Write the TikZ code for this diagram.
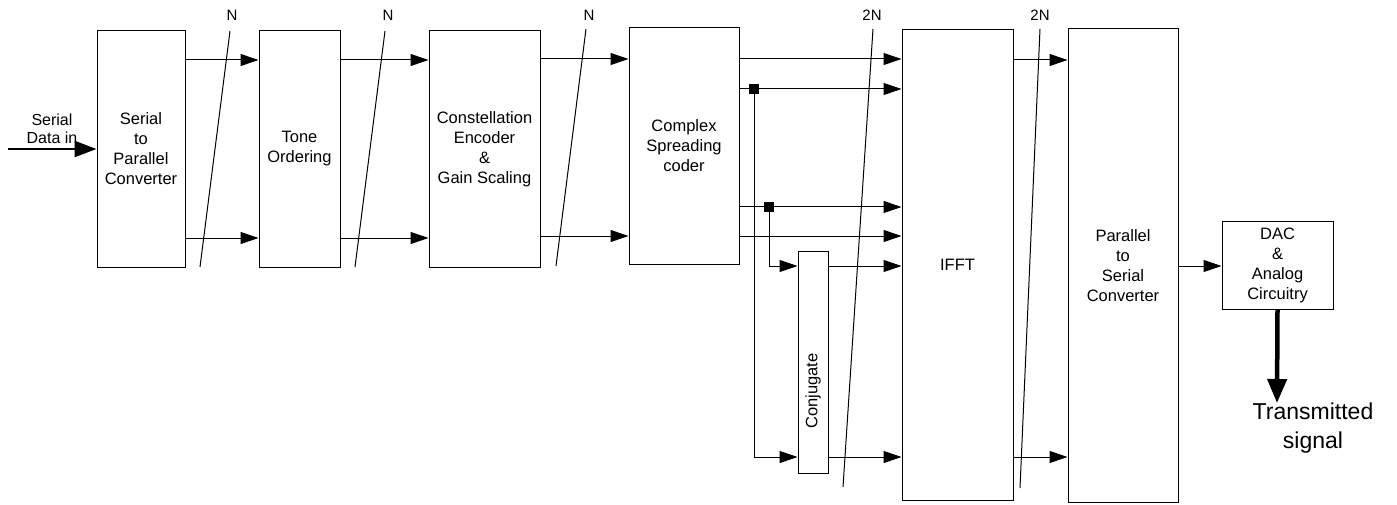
\documentclass[tikz,border=0pt]{standalone}
\usepackage{fontspec}
\setmainfont{Liberation Sans}
\usetikzlibrary{arrows.meta}
\begin{document}
\begin{tikzpicture}[x=1pt,y=-1pt,
  blk/.style={draw, line width=1pt, rectangle, align=center, inner sep=0pt,
    font=\fontsize{16.5}{20}\selectfont},
  arr/.style={line width=1pt, -{Triangle[length=18pt,width=12pt]}},
  thickarr/.style={line width=2.5pt, -{Triangle[length=22pt,width=16pt]}},
  bigarr/.style={line width=4.5pt, -{Triangle[length=24pt,width=19pt]}},
  slash/.style={line width=1pt},
  lbl/.style={font=\fontsize{15}{18}\selectfont, inner sep=0pt},
  junc/.style={fill=black, draw=none, minimum size=9.5pt, inner sep=0pt, rectangle}
]
\useasboundingbox (0,0) rectangle (1397,505);

% boxes
\node[blk, minimum width=88pt, minimum height=236pt] (sp) at (141,149) {Serial\\to\\Parallel\\Converter};
\node[blk, minimum width=81pt, minimum height=236pt] (to) at (299.5,149) {Tone\\Ordering};
\node[blk, minimum width=111pt, minimum height=236pt] (ce) at (484.5,149) {Constellation\\Encoder\\\&\\Gain Scaling};
\node[blk, minimum width=110pt, minimum height=236pt] (cs) at (684,146) {Complex\\Spreading\\coder};
\node[blk, minimum width=111pt, minimum height=470pt] (ifft) at (957.5,265) {IFFT};
\node[blk, minimum width=110pt, minimum height=473pt] (ps) at (1123,265.5) {Parallel\\to\\Serial\\Converter};
\node[blk, minimum width=111pt, minimum height=87pt] (dac) at (1277.5,265.5) {DAC\\\&\\Analog\\Circuitry};
\node[draw, line width=1pt, minimum width=30pt, minimum height=222pt, inner sep=0pt] (conj) at (813,362) {};
\node[rotate=90, font=\fontsize{16.5}{20}\selectfont, inner sep=0pt] (conjt) at (813,391) {Conjugate};

% input
\node[align=center, font=\fontsize{16}{18}\selectfont, inner sep=0pt] (sdin) at (52,129) {Serial\\Data in};
\coordinate (inS) at (8,149);
\draw[thickarr] (inS) -- (sp.west |- 0,149);

% stage connections
\draw[arr] (sp.east |- 0,60) -- (to.west |- 0,60);
\draw[arr] (sp.east |- 0,238) -- (to.west |- 0,238);
\draw[arr] (to.east |- 0,60) -- (ce.west |- 0,60);
\draw[arr] (to.east |- 0,238) -- (ce.west |- 0,238);
\draw[arr] (ce.east |- 0,59) -- (cs.west |- 0,59);
\draw[arr] (ce.east |- 0,236) -- (cs.west |- 0,236);

% spreading coder outputs
\node[junc] (j1) at (754,89) {};
\node[junc] (j2) at (769,207) {};
\draw[arr] (cs.east |- 0,59) -- (ifft.west |- 0,59);
\draw[arr] (cs.east |- 0,89) -- (ifft.west |- 0,89);
\draw[arr] (cs.east |- 0,207) -- (ifft.west |- 0,207);
\draw[arr] (cs.east |- 0,236) -- (ifft.west |- 0,236);
\draw[arr] (j1.center) |- (conj.west |- 0,457);
\draw[arr] (j2.center) |- (conj.west |- 0,266);
\draw[arr] (conj.east |- 0,266) -- (ifft.west |- 0,266);
\draw[arr] (conj.east |- 0,457) -- (ifft.west |- 0,457);

% IFFT to P/S
\draw[arr] (ifft.east |- 0,60) -- (ps.west |- 0,60);
\draw[arr] (ifft.east |- 0,457) -- (ps.west |- 0,457);
\draw[arr] (ps.east |- 0,266) -- (dac.west |- 0,266);

% output
\coordinate (txend) at (1277,403);
\draw[bigarr] (dac.south) -- (txend);
\node[align=center, font=\fontsize{23}{29}\selectfont, inner sep=0pt] (tx) at (1313,428) {Transmitted\\signal};

% bus slashes
\draw[slash] (230,31) -- (200,267);
\node[lbl] (n1) at (232,15) {N};
\draw[slash] (385,31) -- (355,267);
\node[lbl] (n2) at (388,15) {N};
\draw[slash] (586,29) -- (556,266);
\node[lbl] (n3) at (589,15) {N};
\draw[slash] (873,29) -- (843,487);
\node[lbl] (n4) at (872,15) {2N};
\draw[slash] (1040,29) -- (1020,488);
\node[lbl] (n5) at (1040,15) {2N};
\end{tikzpicture}
\end{document}
